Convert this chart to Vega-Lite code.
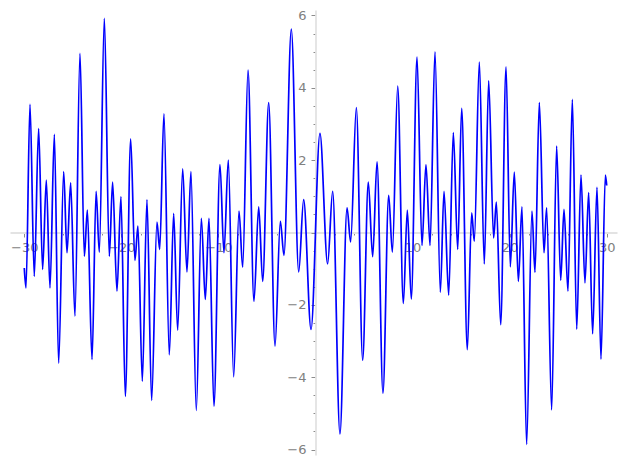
{
  "$schema": "https://vega.github.io/schema/vega-lite/v6.json",
  "width": 607,
  "height": 445,
  "autosize": {"type": "none"},
  "padding": {"left": 10, "top": 10, "right": 10, "bottom": 13},
  "background": "white",
  "config": {"view": {"stroke": null}},
  "data": {"values": [
    {"x": -30.00, "y": -0.98}, {"x": -29.82, "y": -1.53}, {"x": -29.41, "y": 3.54}, {"x": -28.97, "y": -1.21},
    {"x": -28.52, "y": 2.87}, {"x": -28.11, "y": -1.02}, {"x": -27.73, "y": 1.45}, {"x": -27.35, "y": -1.53},
    {"x": -26.90, "y": 2.71}, {"x": -26.46, "y": -3.61}, {"x": -25.94, "y": 1.68}, {"x": -25.60, "y": -0.56},
    {"x": -25.22, "y": 1.37}, {"x": -24.78, "y": -2.31}, {"x": -24.26, "y": 4.95}, {"x": -23.81, "y": -0.66},
    {"x": -23.50, "y": 0.62}, {"x": -23.02, "y": -3.51}, {"x": -22.60, "y": 1.14}, {"x": -22.27, "y": -0.54},
    {"x": -21.75, "y": 5.92}, {"x": -21.24, "y": -0.66}, {"x": -20.90, "y": 1.39}, {"x": -20.45, "y": -1.62},
    {"x": -20.04, "y": 0.99}, {"x": -19.59, "y": -4.53}, {"x": -19.04, "y": 2.59}, {"x": -18.60, "y": -0.77},
    {"x": -18.29, "y": 0.18}, {"x": -17.84, "y": -4.11}, {"x": -17.36, "y": 0.91}, {"x": -16.88, "y": -4.64},
    {"x": -16.33, "y": 0.29}, {"x": -16.05, "y": -0.47}, {"x": -15.61, "y": 3.28}, {"x": -15.06, "y": -3.38},
    {"x": -14.61, "y": 0.53}, {"x": -14.20, "y": -2.70}, {"x": -13.68, "y": 1.76}, {"x": -13.24, "y": -1.09},
    {"x": -12.83, "y": 1.68}, {"x": -12.28, "y": -4.92}, {"x": -11.76, "y": 0.39}, {"x": -11.35, "y": -1.85},
    {"x": -10.97, "y": 0.39}, {"x": -10.46, "y": -4.80}, {"x": -9.84, "y": 1.88}, {"x": -9.43, "y": -0.56},
    {"x": -8.98, "y": 2.00}, {"x": -8.43, "y": -3.99}, {"x": -7.88, "y": 0.59}, {"x": -7.50, "y": -0.96},
    {"x": -6.95, "y": 4.49}, {"x": -6.34, "y": -1.90}, {"x": -5.85, "y": 0.71}, {"x": -5.44, "y": -1.35},
    {"x": -4.82, "y": 3.59}, {"x": -4.17, "y": -3.14}, {"x": -3.62, "y": 0.31}, {"x": -3.25, "y": -0.63},
    {"x": -2.49, "y": 5.62}, {"x": -1.73, "y": -1.09}, {"x": -1.22, "y": 0.91}, {"x": -0.46, "y": -2.68},
    {"x": 0.46, "y": 2.74}, {"x": 1.25, "y": -0.87}, {"x": 1.77, "y": 1.14}, {"x": 2.52, "y": -5.57},
    {"x": 3.25, "y": 0.68}, {"x": 3.62, "y": -0.26}, {"x": 4.21, "y": 3.45}, {"x": 4.86, "y": -3.53},
    {"x": 5.44, "y": 1.39}, {"x": 5.89, "y": -0.67}, {"x": 6.34, "y": 1.95}, {"x": 6.95, "y": -4.44},
    {"x": 7.54, "y": 1.03}, {"x": 7.92, "y": -0.54}, {"x": 8.47, "y": 4.05}, {"x": 9.05, "y": -1.96},
    {"x": 9.46, "y": 0.62}, {"x": 9.87, "y": -1.84}, {"x": 10.46, "y": 4.85}, {"x": 10.97, "y": -0.36},
    {"x": 11.38, "y": 1.88}, {"x": 11.80, "y": -0.36}, {"x": 12.31, "y": 4.99}, {"x": 12.86, "y": -1.65},
    {"x": 13.24, "y": 1.14}, {"x": 13.72, "y": -1.73}, {"x": 14.20, "y": 2.76}, {"x": 14.65, "y": -0.47},
    {"x": 15.06, "y": 3.43}, {"x": 15.64, "y": -3.24}, {"x": 16.09, "y": 0.54}, {"x": 16.36, "y": -0.24},
    {"x": 16.88, "y": 4.71}, {"x": 17.39, "y": -0.87}, {"x": 17.84, "y": 4.19}, {"x": 18.35, "y": -0.15},
    {"x": 18.63, "y": 0.84}, {"x": 19.08, "y": -2.55}, {"x": 19.63, "y": 4.58}, {"x": 20.07, "y": -0.95},
    {"x": 20.48, "y": 1.67}, {"x": 20.90, "y": -1.35}, {"x": 21.27, "y": 0.71}, {"x": 21.75, "y": -5.86},
    {"x": 22.30, "y": 0.59}, {"x": 22.61, "y": -1.10}, {"x": 23.06, "y": 3.59}, {"x": 23.54, "y": -0.56},
    {"x": 23.81, "y": 0.68}, {"x": 24.33, "y": -4.90}, {"x": 24.84, "y": 2.39}, {"x": 25.26, "y": -1.32},
    {"x": 25.60, "y": 0.64}, {"x": 26.01, "y": -1.62}, {"x": 26.46, "y": 3.68}, {"x": 26.91, "y": -2.67},
    {"x": 27.35, "y": 1.59}, {"x": 27.76, "y": -1.39}, {"x": 28.14, "y": 1.10}, {"x": 28.55, "y": -2.80},
    {"x": 29.00, "y": 1.25}, {"x": 29.41, "y": -3.50}, {"x": 29.86, "y": 1.59}, {"x": 30.00, "y": 1.30}
  ]},
  "mark": {"type": "line", "color": "#0000ff", "strokeWidth": 1.7, "interpolate": "monotone", "clip": false},
  "encoding": {
    "x": {
      "field": "x", "type": "quantitative",
      "scale": {"domain": [-31.47, 31.06], "nice": false, "zero": false},
      "axis": {
        "orient": "bottom", "offset": -222.5, "title": null, "grid": false,
        "values": [-30, -28, -26, -24, -22, -20, -18, -16, -14, -12, -10, -8, -6, -4, -2, 0, 2, 4, 6, 8, 10, 12, 14, 16, 18, 20, 22, 24, 26, 28, 30],
        "labelExpr": "datum.value % 10 == 0 && datum.value != 0 ? format(datum.value, 'd') : ''",
        "tickSize": {"condition": {"test": "datum.value % 10 == 0", "value": 4.5}, "value": 2.5},
        "domainColor": "#e3e3e3", "domainWidth": 1.8,
        "tickColor": "#8c8c8c", "tickWidth": 1,
        "labelColor": "#808080", "labelFont": "DejaVu Sans", "labelFontSize": 13,
        "labelPadding": 4, "labelFlush": false, "labelOverlap": false
      }
    },
    "y": {
      "field": "y", "type": "quantitative",
      "scale": {"domain": [-6.15, 6.15], "nice": false, "zero": false},
      "axis": {
        "orient": "left", "offset": -305.5, "title": null, "grid": false,
        "values": [-6, -5.5, -5, -4.5, -4, -3.5, -3, -2.5, -2, -1.5, -1, -0.5, 0, 0.5, 1, 1.5, 2, 2.5, 3, 3.5, 4, 4.5, 5, 5.5, 6],
        "labelExpr": "datum.value % 2 == 0 && datum.value != 0 ? format(datum.value, 'd') : ''",
        "tickSize": {"condition": {"test": "datum.value % 2 == 0", "value": 4.5}, "value": 2.5},
        "domainColor": "#e3e3e3", "domainWidth": 1.8,
        "tickColor": "#8c8c8c", "tickWidth": 1,
        "labelColor": "#808080", "labelFont": "DejaVu Sans", "labelFontSize": 13,
        "labelPadding": 5, "labelOverlap": false, "labelFlush": false
      }
    }
  }
}
